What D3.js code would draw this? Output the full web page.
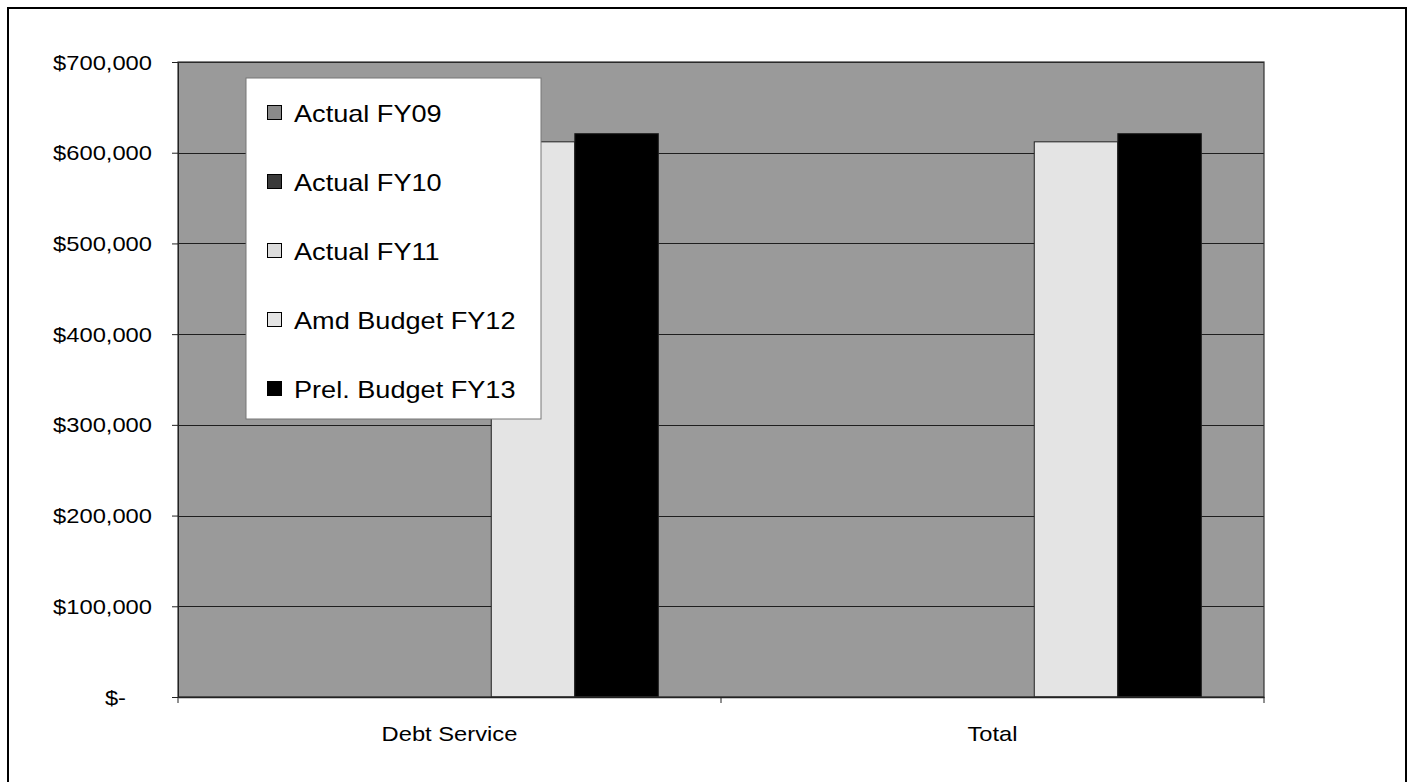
<!DOCTYPE html>
<html>
<head>
<meta charset="utf-8">
<script src="https://cdn.jsdelivr.net/npm/d3@7"></script>
<style>
  html, body { margin: 0; padding: 0; background: #fff; }
  svg { display: block; }
  text { font-family: "Liberation Sans", Arial, Helvetica, sans-serif; fill: #000; }
</style>
</head>
<body>
<svg id="chart" width="1408" height="782"></svg>
<script>
// Budget categories and fiscal-year series
const categories = ["Debt Service", "Total"];
const seriesNames = ["Actual FY09", "Actual FY10", "Actual FY11", "Amd Budget FY12", "Prel. Budget FY13"];
const actualFY09 = [0, 0];
const actualFY10 = [0, 0];
const actualFY11 = [0, 0];
const amdBudgetFY12 = [612000, 612000];
const prelBudgetFY13 = [621000, 621000];
const yTicks = [0, 100000, 200000, 300000, 400000, 500000, 600000, 700000];

const seriesValues = [actualFY09, actualFY10, actualFY11, amdBudgetFY12, prelBudgetFY13];
const seriesFill = ["#8a8a8a", "#3a3a3a", "#dcdcdc", "#e4e4e4", "#000000"];

const svg = d3.select("#chart");
const plot = { left: 178, right: 1264, top: 62, bottom: 697 };
const stretch = 1.13; // horizontal stretch of the lettering

// outer frame
svg.append("rect")
  .attr("x", 8).attr("y", 8).attr("width", 1398).attr("height", 800)
  .attr("fill", "none").attr("stroke", "#000").attr("stroke-width", 2);

const x0 = d3.scaleBand().domain(categories).range([plot.left, plot.right]).padding(0);
const x1 = d3.scaleBand().domain(d3.range(seriesNames.length))
  .range([0, x0.bandwidth()]).paddingInner(0).paddingOuter(0.75);
const y = d3.scaleLinear().domain([0, 700000]).range([plot.bottom, plot.top]);

// plot area background
svg.append("rect")
  .attr("x", plot.left).attr("y", plot.top)
  .attr("width", plot.right - plot.left).attr("height", plot.bottom - plot.top)
  .attr("fill", "#9a9a9a");

// horizontal gridlines
svg.append("g").selectAll("line").data(yTicks.slice(1)).join("line")
  .attr("x1", plot.left).attr("x2", plot.right)
  .attr("y1", d => Math.round(y(d)) + 0.5).attr("y2", d => Math.round(y(d)) + 0.5)
  .attr("stroke", "#1e1e1e").attr("stroke-width", 1);

// bars
const groups = svg.append("g").selectAll("g").data(categories).join("g")
  .attr("transform", d => `translate(${x0(d)},0)`);
groups.selectAll("rect")
  .data((c, ci) => seriesValues.map((vals, si) => ({ si, v: vals[ci] })).filter(d => d.v > 0))
  .join("rect")
  .attr("x", d => x1(d.si))
  .attr("width", x1.bandwidth())
  .attr("y", d => y(d.v))
  .attr("height", d => y(0) - y(d.v))
  .attr("fill", d => seriesFill[d.si])
  .attr("stroke", "#222").attr("stroke-width", 1);

// plot border
svg.append("rect")
  .attr("x", plot.left).attr("y", plot.top)
  .attr("width", plot.right - plot.left).attr("height", plot.bottom - plot.top)
  .attr("fill", "none").attr("stroke", "#333").attr("stroke-width", 1.2);

// value axis
const yAxis = d3.axisLeft(y).tickValues(yTicks).tickSize(6).tickPadding(0)
  .tickFormat(() => "");
svg.append("g").attr("transform", `translate(${plot.left},0)`).call(yAxis)
  .call(g => g.select(".domain").attr("stroke", "#222"))
  .call(g => g.selectAll(".tick line").attr("stroke", "#222"));

const fmt = d => d === 0 ? "$-" : "$" + d3.format(",")(d);
svg.append("g").selectAll("text").data(yTicks).join("text")
  .attr("transform", d => `translate(${d === 0 ? 126 : 152},${y(d) + 7.5}) scale(${stretch},1)`)
  .attr("text-anchor", "end")
  .style("font-size", "21px")
  .text(fmt);

// category axis
const xAxis = d3.axisBottom(x0).tickSize(0).tickFormat(() => "");
svg.append("g").attr("transform", `translate(0,${plot.bottom})`).call(xAxis)
  .call(g => g.select(".domain").attr("stroke", "#222").attr("stroke-width", 1.5));
const boundaries = [plot.left, ...categories.map(c => x0(c) + x0.bandwidth())];
svg.append("g").selectAll("line").data(boundaries).join("line")
  .attr("x1", d => d).attr("x2", d => d)
  .attr("y1", plot.bottom).attr("y2", plot.bottom + 6)
  .attr("stroke", "#222");

svg.append("g").selectAll("text").data(categories).join("text")
  .attr("transform", d => `translate(${x0(d) + x0.bandwidth() / 2},${741}) scale(${stretch},1)`)
  .attr("text-anchor", "middle")
  .style("font-size", "21px")
  .text(d => d);

// legend
const legend = svg.append("g");
legend.append("rect")
  .attr("x", 246).attr("y", 78).attr("width", 295).attr("height", 341)
  .attr("fill", "#fff").attr("stroke", "#777").attr("stroke-width", 1);
const items = legend.selectAll("g").data(seriesNames).join("g")
  .attr("transform", (d, i) => `translate(0,${113 + i * 69})`);
items.append("rect")
  .attr("x", 267.5).attr("y", -7.5).attr("width", 14).attr("height", 14)
  .attr("fill", (d, i) => seriesFill[i]).attr("stroke", "#000").attr("stroke-width", 1);
items.append("text")
  .attr("transform", `translate(294,8.5) scale(${stretch},1)`)
  .style("font-size", "24px")
  .text(d => d);
</script>
</body>
</html>
